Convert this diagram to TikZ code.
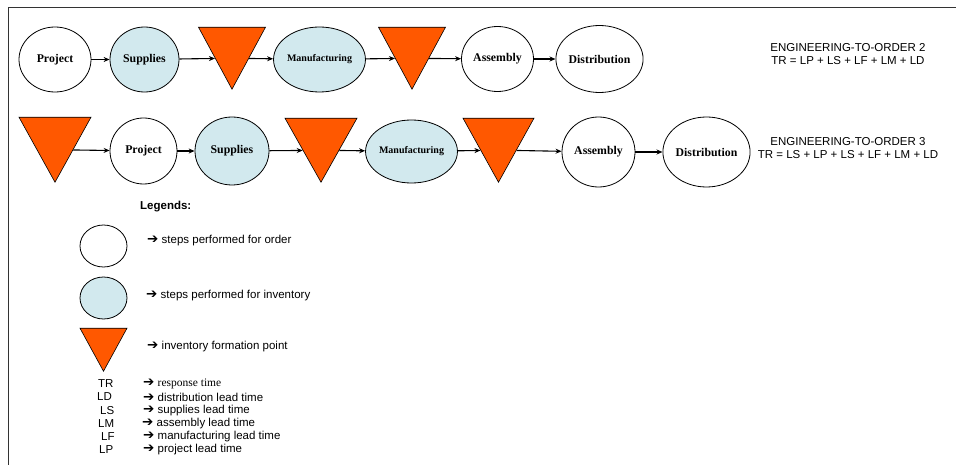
\documentclass[tikz,border=0pt]{standalone}
\usepackage{fontspec}
\setmainfont{Liberation Serif}
\setsansfont{Liberation Sans}
\newfontfamily\arrowfont{DejaVu Sans}
\usepackage{tikz}
\usetikzlibrary{arrows.meta,shapes.geometric}
\definecolor{stockblue}{RGB}{210,233,238}
\definecolor{pointorange}{RGB}{255,88,0}
\newcommand{\legarrow}{{\arrowfont\fontsize{13.5}{13}\selectfont\char"2794}}

\begin{document}
\begin{tikzpicture}[x=1pt,y=-1pt,
  order/.style={ellipse,draw=black,line width=0.8pt,fill=white,inner sep=0pt,
    minimum width=72pt,minimum height=65pt,font=\fontsize{11.8}{13}\selectfont\bfseries},
  inventory/.style={order,fill=stockblue},
  formation/.style={isosceles triangle,isosceles triangle stretches,shape border rotate=-90,anchor=apex,
    draw=black,line width=0.6pt,fill=pointorange,inner sep=0pt,minimum width=67pt,minimum height=62pt},
  flow/.style={-{Stealth[length=6pt,width=5pt]},line width=1.1pt},
  note/.style={anchor=west,inner sep=0pt,font=\sffamily\fontsize{11.5}{13}\selectfont}]
\useasboundingbox (0,0) rectangle (956,465);
\draw[black!80,line width=0.8pt] (8,465) -- (8,7) -- (956,7);

% engineering-to-order 2
\node[order] (p2) at (55,59.5) {Project};
\node[inventory,minimum width=69pt] (s2) at (144.5,59.5) {Supplies};
\node[formation] (t2a) at (232,90) {};
\node[inventory,minimum width=71pt,font=\fontsize{10}{12}\selectfont\bfseries] (m2) at (319.5,59.5) {Manufacturing};
\node[formation] (t2b) at (412,90) {};
\node[order] (a2) at (497.5,59) {Assembly};
\node[order,minimum width=75pt,minimum height=67pt] (d2) at (599.5,59) {Distribution};
\draw[flow] (p2) -- (s2);
\draw[flow] (s2) -- (t2a.right side);
\draw[flow] (t2a.left side) -- (m2);
\draw[flow] (m2) -- (t2b.right side);
\draw[flow] (t2b.left side) -- (a2);
\draw[flow] (a2) -- (d2);
\node[align=center,font=\sffamily\fontsize{11.5}{13}\selectfont] (eq2) at (848,54) {ENGINEERING-TO-ORDER 2\\TR = LP + LS + LF + LM + LD};

% engineering-to-order 3
\node[formation,minimum width=72pt,minimum height=65pt] (t3a) at (55,183) {};
\node[order,minimum width=67pt,minimum height=66pt] (p3) at (143.5,151) {Project};
\node[inventory,minimum width=74pt,minimum height=68pt] (s3) at (232,151) {Supplies};
\node[formation,minimum width=72pt,minimum height=64pt] (t3b) at (321,183) {};
\node[inventory,minimum width=71pt,minimum height=63pt,font=\fontsize{10}{12}\selectfont\bfseries] (m3) at (411.5,151.5) {Manufacturing};
\node[formation,minimum width=71pt,minimum height=64pt] (t3c) at (498.5,183) {};
\node[order,minimum width=73pt,minimum height=70pt] (a3) at (598.5,152) {Assembly};
\node[order,minimum width=77pt,minimum height=70pt] (d3) at (706.5,152) {Distribution};
\draw[flow] (t3a.left side) -- (p3);
\draw[flow] (p3) -- (s3);
\draw[flow] (s3) -- (t3b.right side);
\draw[flow] (t3b.left side) -- (m3);
\draw[flow] (m3) -- (t3c.right side);
\draw[flow] (t3c.left side) -- (a3);
\draw[flow] (a3) -- (d3);
\node[align=center,font=\sffamily\fontsize{11.5}{13}\selectfont] (eq3) at (848,148) {ENGINEERING-TO-ORDER 3\\TR = LS + LP + LS + LF + LM + LD};

% legend
\node[note,font=\sffamily\bfseries\fontsize{11.5}{13}\selectfont] (leg) at (140,207) {Legends:};
\node[order,minimum width=47pt,minimum height=42pt] (k1) at (103.5,246) {};
\node[inventory,minimum width=47pt,minimum height=42pt] (k2) at (103.5,298) {};
\node[formation,minimum width=47pt,minimum height=43pt] (k3) at (103.5,372) {};
\node[note] (k1t) at (147,241) {\legarrow\ steps performed for order};
\node[note] (k2t) at (146,296) {\legarrow\ steps performed for inventory};
\node[note] (k3t) at (147,347) {\legarrow\ inventory formation point};

\node[note] (tr) at (98,384) {TR};
\node[note] (ld) at (97,397) {LD};
\node[note] (ls) at (100,410.5) {LS};
\node[note] (lm) at (98,424) {LM};
\node[note] (lf) at (101,437) {LF};
\node[note] (lp) at (99,450) {LP};
\node[note] (trt) at (143,384) {\legarrow\ {\rmfamily response time}};
\node[note] (ldt) at (143,397) {\legarrow\ distribution lead time};
\node[note] (lst) at (143,410.5) {\legarrow\ supplies lead time};
\node[note] (lmt) at (142,424) {\legarrow\ assembly lead time};
\node[note] (lft) at (143,437) {\legarrow\ manufacturing lead time};
\node[note] (lpt) at (143,450) {\legarrow\ project lead time};
\end{tikzpicture}
\end{document}
